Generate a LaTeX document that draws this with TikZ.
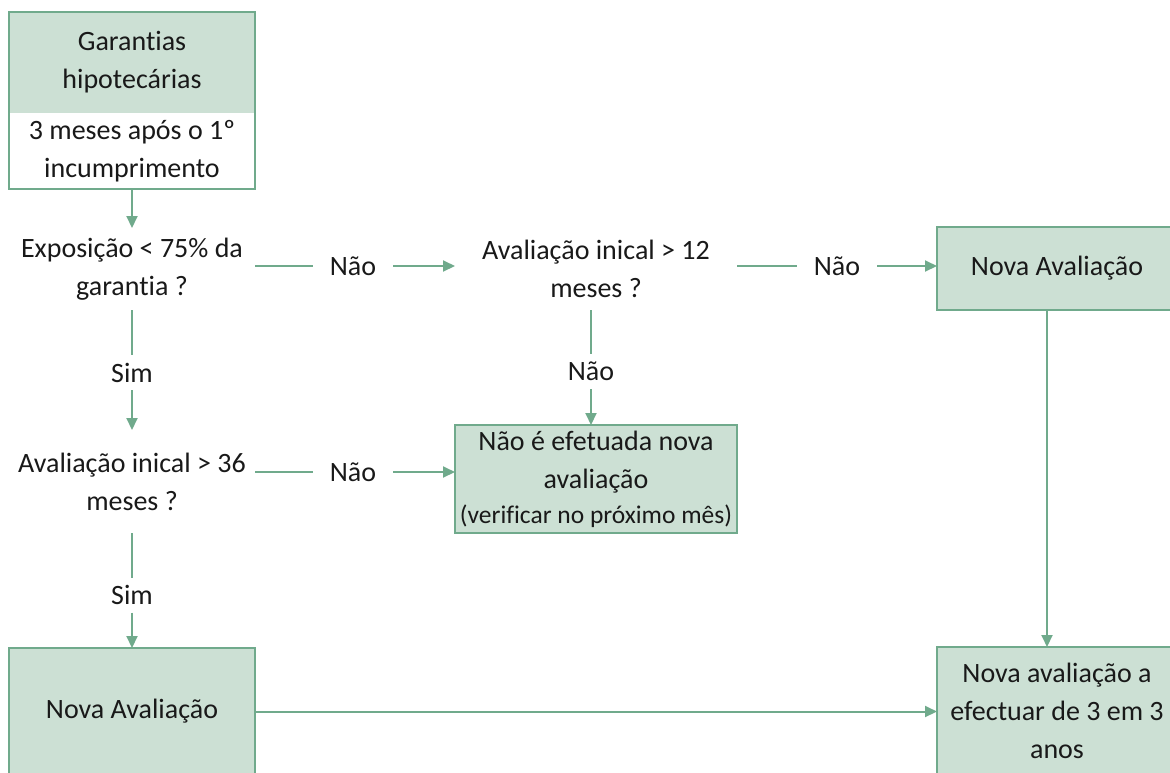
\documentclass[tikz,border=0pt]{standalone}
\usepackage{fontspec}
\setmainfont{Carlito}[Ligatures={NoCommon,NoRare,NoContextual}]
\usetikzlibrary{arrows.meta}
\definecolor{boxfill}{RGB}{204,224,212}
\definecolor{boxline}{RGB}{112,170,140}
\definecolor{txt}{RGB}{25,25,25}
\begin{document}
\begin{tikzpicture}[x=1pt,y=-1pt,
  every node/.style={font=\fontsize{28}{38}\selectfont, text=txt, align=center, inner sep=0pt, outer sep=0pt},
  gbox/.style={draw=boxline, fill=boxfill, line width=2pt},
  qnode/.style={minimum width=246pt},
  lbl/.style={minimum width=80pt, minimum height=20pt},
  vlbl/.style={minimum height=35pt, minimum width=40pt},
  con/.style={draw=boxline, line width=2pt},
  arr/.style={con, -{Triangle[length=12pt,width=11pt]}}
]
\useasboundingbox (0,0) rectangle (1170,772);
% top box
\node[fill=boxfill, minimum width=246pt, minimum height=101pt] (top1) at (132,62.5) {Garantias\\hipotecárias};
\node[fill=white, minimum width=246pt, minimum height=76pt] (top2) at (132,151) {3 meses após o 1º\\incumprimento};
\draw[con] (top1.north west) rectangle (top2.south east);
% questions
\node[qnode, minimum height=82pt] (q1) at (132,269) {Exposição < 75\% da\\garantia ?};
\node[minimum width=282pt, minimum height=83pt] (q2) at (596,268.5) {Avaliação inical > 12\\meses ?};
\node[qnode, minimum height=103pt] (q3) at (132,481.5) {Avaliação inical > 36\\meses ?};
% boxes
\node[gbox, minimum width=240pt, minimum height=83pt] (nv1) at (1057,268.5) {Nova Avaliação};
\node[gbox, minimum width=282pt, minimum height=108pt] (nb) at (596,479) {Não é efetuada nova\\avaliação\\[-3pt]{\fontsize{25.5}{30}\selectfont (verificar no próximo mês)}};
\node[gbox, minimum width=246pt, minimum height=127pt] (nv3) at (132,711.5) {Nova Avaliação};
\node[gbox, minimum width=240pt, minimum height=128pt] (nv2) at (1057,711) {Nova avaliação a\\efectuar de 3 em 3\\anos};
% labels
\node[lbl] (l1) at (353,266) {Não};
\node[lbl] (l2) at (837,266) {Não};
\node[lbl] (l3) at (353,472) {Não};
\node[vlbl] (s1) at (132,372.5) {Sim};
\node[vlbl] (l4) at (591,371.5) {Não};
\node[vlbl] (s2) at (132,595) {Sim};
% connectors
\draw[arr] (top2.south) -- (q1.north);
\draw[con] (q1.east |- l1) -- (l1.west);
\draw[arr] (l1.east) -- (q2.west |- l1);
\draw[con] (q2.east |- l2) -- (l2.west);
\draw[arr] (l2.east) -- (nv1.west |- l2);
\draw[con] (q1.south) -- (s1.north);
\draw[arr] (s1.south) -- (q3.north);
\draw[con] (q3.east |- l3) -- (l3.west);
\draw[arr] (l3.east) -- (nb.west |- l3);
\draw[con] (q2.south -| l4) -- (l4.north);
\draw[arr] (l4.south) -- (l4 |- nb.north);
\draw[con] (q3.south) -- (s2.north);
\draw[arr] (s2.south) -- (nv3.north);
\draw[arr] (nv3.east) -- (nv2.west |- nv3.east);
\draw[arr] ([xshift=-10pt]nv1.south) -- ([xshift=-10pt]nv2.north);
\end{tikzpicture}
\end{document}
